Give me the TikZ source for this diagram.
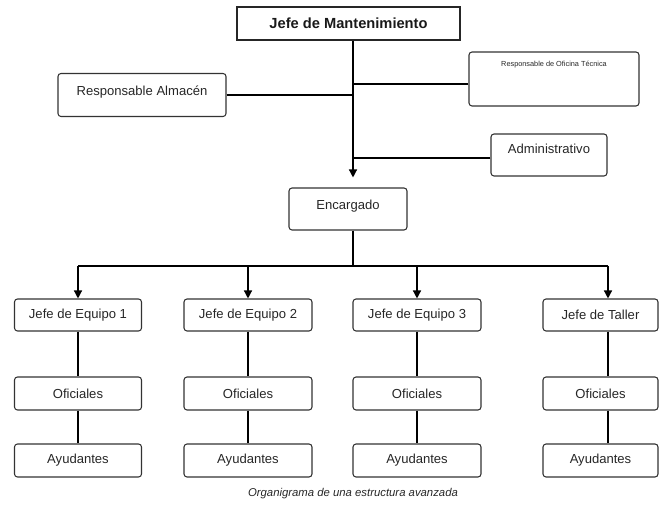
\documentclass[tikz,border=0pt]{standalone}
\usepackage{fontspec}
\setmainfont{Liberation Sans}
\usetikzlibrary{arrows.meta}

\tikzset{every picture/.style={line width=0.75pt}}
\tikzset{
  cargo/.style={draw=black!80, line width=0.8pt, rounded corners=2.25pt, text=black!85,
    inner sep=0.75pt, font=\fontsize{9.8}{11}\selectfont},
  jefebox/.style={draw=black!85, line width=1.3pt, text=black!90, inner sep=0.75pt,
    font=\fontsize{11}{13}\selectfont\bfseries},
  upbox/.style={text depth=7pt},
  enlace/.style={draw=black, line width=1pt},
  flecha/.style={enlace, -{Triangle[length=6pt,width=6pt]}}
}

\begin{document}
\begin{tikzpicture}[x=0.75pt,y=0.75pt,yscale=-1,xscale=1]
\useasboundingbox (0,0) rectangle (660,523);

%Shape: Rectangle
\node [jefebox, minimum width=167.25pt, minimum height=24.75pt] (jefe) at (348.5,23.5) {Jefe de Mantenimiento};
%Shape: Rounded Rect
\node [cargo, upbox, minimum width=126pt, minimum height=32.25pt] (almacen) at (142,95) {Responsable Almacén};
%Shape: Rounded Rect
\node [cargo, minimum width=127.5pt, minimum height=40.5pt, inner ysep=6.75pt, font=\fontsize{5.5}{6.5}\selectfont] (oficina) at (554,79)
  {\parbox[c][27pt][t]{120pt}{\centering Responsable de Oficina Técnica}};
%Shape: Rounded Rect
\node [cargo, text depth=9pt, minimum width=87pt, minimum height=31.5pt] (admin) at (549,155) {Administrativo};
%Shape: Rounded Rect
\node [cargo, text depth=6pt, minimum width=88.5pt, minimum height=31.5pt] (encargado) at (348,209) {Encargado};

%Shape: Rounded Rect
\node [cargo, minimum width=95.25pt, minimum height=24pt] (equipo1) at (78,315) {Jefe de Equipo 1};
\node [cargo, minimum width=96pt, minimum height=24pt] (equipo2) at (248,315) {Jefe de Equipo 2};
\node [cargo, minimum width=96pt, minimum height=24pt] (equipo3) at (417,315) {Jefe de Equipo 3};
\node [cargo, minimum width=86.25pt, minimum height=24pt] (taller) at (600.5,315) {Jefe de Taller};

%Shape: Rounded Rect
\node [cargo, minimum width=95.25pt, minimum height=24.75pt] (oficiales1) at (78,393.5) {Oficiales};
\node [cargo, minimum width=96pt, minimum height=24.75pt] (oficiales2) at (248,393.5) {Oficiales};
\node [cargo, minimum width=96pt, minimum height=24.75pt] (oficiales3) at (417,393.5) {Oficiales};
\node [cargo, minimum width=86.25pt, minimum height=24.75pt] (oficiales4) at (600.5,393.5) {Oficiales};

%Shape: Rounded Rect
\node [cargo, minimum width=95.25pt, minimum height=24.75pt] (ayudantes1) at (78,460.5) {Ayudantes};
\node [cargo, minimum width=96pt, minimum height=24.75pt] (ayudantes2) at (248,460.5) {Ayudantes};
\node [cargo, minimum width=96pt, minimum height=24.75pt] (ayudantes3) at (417,460.5) {Ayudantes};
\node [cargo, minimum width=86.25pt, minimum height=24.75pt] (ayudantes4) at (600.5,460.5) {Ayudantes};

% Coordinates
\coordinate (spine) at (353,0);
\coordinate (bus) at (353,266);
\coordinate (bus4) at (608,266);
\coordinate (ofi) at ([yshift=3.75pt]oficina.west);
\coordinate (adm) at ([yshift=2.25pt]admin.west);

%Straight Lines
\draw [flecha, shorten >=7.5pt] (jefe.south -| spine) -- (encargado.north -| spine) ;
\draw [enlace] (ofi) -- (ofi -| spine) ;
\draw [enlace] (almacen.east) -- (almacen.east -| spine) ;
\draw [enlace] (adm) -- (adm -| spine) ;
\draw [enlace] (encargado.south -| spine) -- (bus) ;
\draw [enlace] (bus -| equipo1) -- (bus4) ;

%Straight Lines
\draw [flecha] (bus -| equipo1) -- (equipo1.north) ;
\draw [flecha] (bus -| equipo2) -- (equipo2.north) ;
\draw [flecha] (bus -| equipo3) -- (equipo3.north) ;
\draw [flecha] (bus4) -- (taller.north -| bus4) ;

%Straight Lines
\draw [enlace] (equipo1.south) -- (oficiales1.north) ;
\draw [enlace] (equipo2.south) -- (oficiales2.north) ;
\draw [enlace] (equipo3.south) -- (oficiales3.north) ;
\draw [enlace] (taller.south -| bus4) -- (oficiales4.north -| bus4) ;
\draw [enlace] (oficiales1.south) -- (ayudantes1.north) ;
\draw [enlace] (oficiales2.south) -- (ayudantes2.north) ;
\draw [enlace] (oficiales3.south) -- (ayudantes3.north) ;
\draw [enlace] (oficiales4.south -| bus4) -- (ayudantes4.north -| bus4) ;

% Text Node
\node [inner sep=0.75pt, text=black!85, font=\fontsize{8.5}{10}\selectfont\itshape] (pie) at (353,494) {Organigrama de una estructura avanzada};

\end{tikzpicture}
\end{document}
